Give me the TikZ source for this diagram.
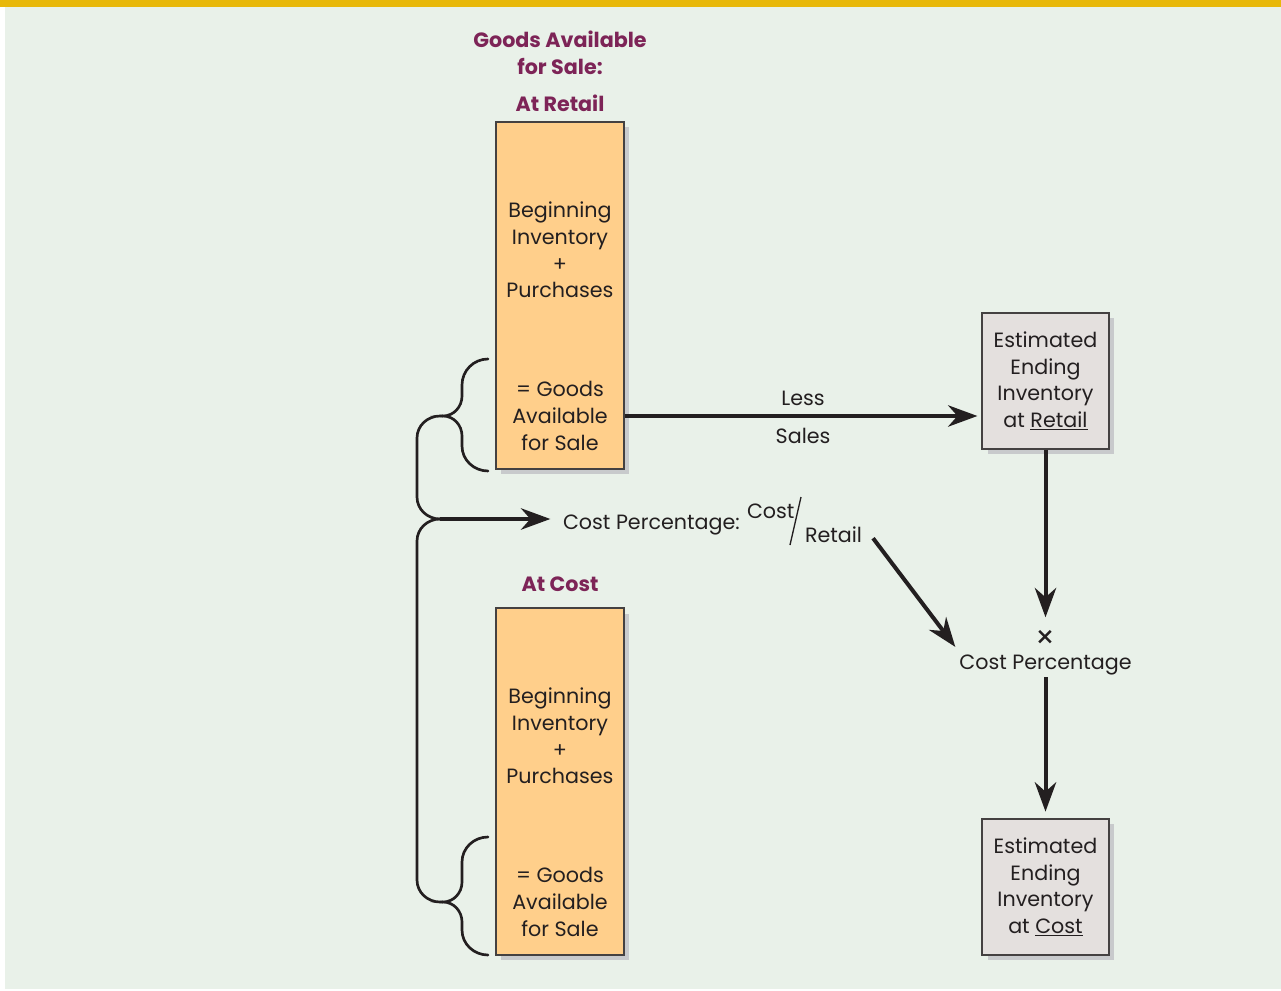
\documentclass[tikz,border=0pt]{standalone}
\usepackage{fontspec}
\setmainfont{Poppins}
\usetikzlibrary{arrows.meta,positioning,calc,shadows}
\definecolor{ink}{RGB}{35,31,32}
\definecolor{paper}{RGB}{233,241,233}
\definecolor{band}{RGB}{232,184,10}
\definecolor{plum}{RGB}{125,36,87}
\definecolor{peach}{RGB}{255,207,139}
\definecolor{stone}{RGB}{228,224,222}
\definecolor{shade}{RGB}{200,202,204}
\tikzset{
  every picture/.style={color=ink, line width=1pt},
  txt/.style={font=\fontsize{15.5}{20}\selectfont, text=ink, align=center, inner sep=1pt},
  head/.style={font=\fontsize{15.5}{20}\selectfont\bfseries, text=plum, align=center, inner sep=1pt},
  panel/.style={draw=ink!85, line width=1.1pt, drop shadow={shadow xshift=4pt, shadow yshift=-4pt, fill=shade, opacity=1}},
  costbox/.style={panel, fill=peach, minimum width=96pt, minimum height=260pt},
  endbox/.style={panel, txt, fill=stone, minimum width=95pt, minimum height=102pt},
  flow/.style={-{Stealth[length=22pt,width=16pt,inset=7pt]}, line width=3pt},
  brace/.style={line width=2pt, line cap=round},
}

\begin{document}
\begin{tikzpicture}[x=0.75pt,y=0.75pt]
  \useasboundingbox (0,0) rectangle (1281,-991);
  \fill[white] (0,0) rectangle (1281,-991);
  \fill[paper] (5,-7) rectangle (1281,-989);
  \fill[band] (0,0) rectangle (1281,-7);
  % goods available, at retail
  \node[head] (gafs) at (560,-53) {Goods Available\\for Sale:};
  \node[head] (atretail) at (560,-103) {At Retail};
  \node[costbox] (retail) at (560,-295.5) {};
  \node[txt] (retailtop) at (560,-250) {Beginning\\Inventory\\+\\Purchases};
  \node[txt] (retailsum) at (560,-416) {= Goods\\Available\\for Sale};
  % goods available, at cost
  \node[head] (atcost) at (560,-584) {At Cost};
  \node[costbox] (cost) at (560,-781.5) {};
  \node[txt] (costtop) at (560,-736) {Beginning\\Inventory\\+\\Purchases};
  \node[txt] (costsum) at (560,-902) {= Goods\\Available\\for Sale};
  % estimates on the right
  \node[endbox] (endretail) at (1045.5,-381) {Estimated\\Ending\\Inventory\\at \underline{Retail}};
  \node[txt] (times) at (1045.5,-639) {\scalebox{1.5}{×}};
  \node[txt] (pct) at (1045.5,-665) {Cost Percentage};
  \node[endbox] (endcost) at (1045.5,-887) {Estimated\\Ending\\Inventory\\at \underline{Cost}};
  % cost percentage ratio
  \node[txt, anchor=base west] (ratio) at (561,-529) {Cost Percentage:};
  \node[txt, anchor=base west] (num) at (745,-518) {Cost};
  \node[txt, anchor=base west] (den) at (803,-542) {Retail};
  \draw[line width=1pt] (801,-497) -- (790,-545);
  % braces joining both totals
  \coordinate (tipA) at (443,-416);
  \coordinate (tipB) at (443,-902);
  \coordinate (join) at (440,-519);
  \draw[brace] (488,-359) to[out=180,in=90] (462,-385) -- (462,-396) to[out=-90,in=0] (tipA)
    to[out=0,in=90] (462,-436) -- (462,-446) to[out=-90,in=180] (488,-471);
  \draw[brace] (488,-837) to[out=180,in=90] (462,-862) -- (462,-882) to[out=-90,in=0] (tipB)
    to[out=0,in=90] (462,-922) -- (462,-930) to[out=-90,in=180] (488,-955);
  \draw[brace] (tipA) -- (440,-416) to[out=180,in=90] (417,-438) -- (417,-497) to[out=-90,in=180] (join);
  \draw[brace] (tipB) -- (440,-902) to[out=180,in=-90] (417,-880) -- (417,-541) to[out=90,in=180] (join);
  % flows
  \draw[flow, shorten >=8pt] (join) -- (join -| ratio.west);
  \draw[flow, shorten >=3pt] (retailsum -| retail.east) -- (retailsum -| endretail.west)
    node[txt, midway, above=5pt] {Less} node[txt, midway, below=7pt] {Sales};
  \draw[flow, shorten >=8pt] (endretail.south) -- (times.north);
  \draw[flow, shorten >=5pt] (pct.south) -- (endcost.north);
  \draw[flow] ([shift={(9,-4)}]den.east) -- ([shift={(-2,6)}]pct.north west);
\end{tikzpicture}
\end{document}
